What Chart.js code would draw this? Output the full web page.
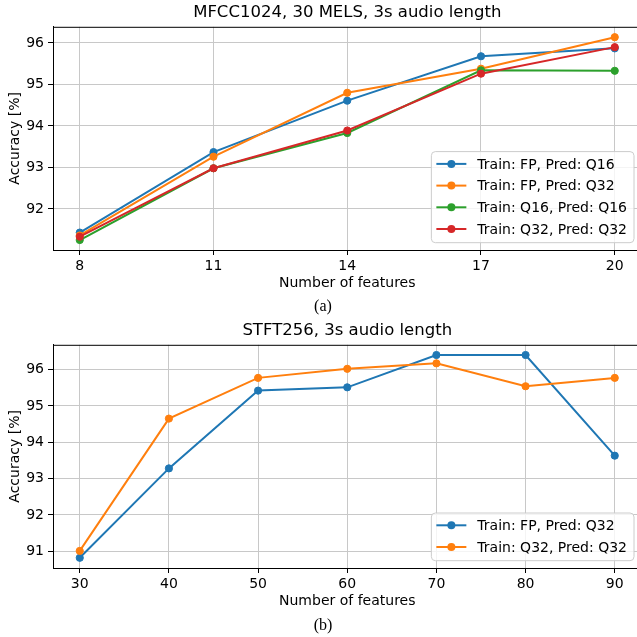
<!DOCTYPE html>
<html>
  <head>
    <title>Accuracy vs number of features</title>
    <script src="https://cdn.jsdelivr.net/npm/chart.js"></script>
    <style>
      body { margin: 0; background: #fff; }
      #page { position: relative; width: 637px; height: 637px; overflow: hidden; }
      canvas { position: absolute; left: 0; }
      .caption {
        position: absolute; width: 646px; text-align: center;
        font-family: "Liberation Serif", serif; font-size: 16px; color: #000;
      }
    </style>
  </head>
  <body>
    <div id="page">
      <canvas id="mfccChart" width="660" height="300" style="top: 0px"></canvas>
      <div class="caption" style="top: 297px">(a)</div>
      <canvas id="stftChart" width="660" height="300" style="top: 318px"></canvas>
      <div class="caption" style="top: 616px">(b)</div>
    </div>
    <script>
      // MFCC1024 results
      const mfccFeatures = [8, 11, 14, 17, 20];
      const mfccFpQ16 = [91.43, 93.37, 94.61, 95.68, 95.87];
      const mfccFpQ32 = [91.36, 93.26, 94.8, 95.38, 96.14];
      const mfccQ16Q16 = [91.25, 92.98, 93.83, 95.34, 95.33];
      const mfccQ32Q32 = [91.33, 92.98, 93.89, 95.26, 95.9];
      const mfccYTicks = [92, 93, 94, 95, 96];

      // STFT256 results
      const stftFeatures = [30, 40, 50, 60, 70, 80, 90];
      const stftFpQ32 = [90.82, 93.28, 95.42, 95.51, 96.4, 96.4, 93.63];
      const stftQ32Q32 = [91.01, 94.65, 95.77, 96.02, 96.17, 95.54, 95.77];
      const stftYTicks = [91, 92, 93, 94, 95, 96];

      const colors = ["#1f77b4", "#ff7f0e", "#2ca02c", "#d62728"];
      const FONT = "DejaVu Sans";

      const toPoints = (xs, ys) => xs.map((x, i) => ({ x: x, y: ys[i] }));

      // axes frame (top and right spines)
      const framePlugin = {
        id: "frame",
        afterDraw(chart) {
          const { ctx, chartArea: a } = chart;
          ctx.save();
          ctx.strokeStyle = "#000";
          ctx.lineWidth = 1;
          ctx.strokeRect(a.left + 0.5, a.top + 0.5, a.right - a.left, a.bottom - a.top);
          ctx.restore();
        },
      };

      // legend box in the lower right corner of the plot
      const cornerLegend = {
        id: "cornerLegend",
        afterDraw(chart) {
          const { ctx, chartArea: a } = chart;
          const sets = chart.data.datasets;
          ctx.save();
          ctx.font = "14px '" + FONT + "'";
          const maxW = Math.max(...sets.map((d) => ctx.measureText(d.label).width));
          const rowH = 21.7;
          const w = 5 + 30 + 11 + maxW + 7;
          const h = (sets.length - 1) * rowH + 26;
          const x = a.right - 7.5 - w;
          const y = a.bottom - 7.3 - h;
          ctx.beginPath();
          ctx.roundRect(x, y, w, h, 4);
          ctx.fillStyle = "rgba(255,255,255,0.8)";
          ctx.fill();
          ctx.strokeStyle = "#cccccc";
          ctx.lineWidth = 1;
          ctx.stroke();
          sets.forEach((d, i) => {
            const cy = y + 12.3 + i * rowH;
            ctx.strokeStyle = d.borderColor;
            ctx.lineWidth = 2;
            ctx.beginPath();
            ctx.moveTo(x + 5, cy);
            ctx.lineTo(x + 35, cy);
            ctx.stroke();
            ctx.fillStyle = d.borderColor;
            ctx.beginPath();
            ctx.arc(x + 20, cy, 4, 0, Math.PI * 2);
            ctx.fill();
            ctx.fillStyle = "#000";
            ctx.textBaseline = "middle";
            ctx.fillText(d.label, x + 46, cy + 1);
          });
          ctx.restore();
        },
      };

      function makeDataset(label, xs, ys, i, n) {
        return {
          label: label,
          data: toPoints(xs, ys),
          borderColor: colors[i],
          backgroundColor: colors[i],
          borderWidth: 2,
          pointRadius: 3.6,
          pointBorderWidth: 1,
          tension: 0,
          order: n - i,
        };
      }

      function makeChart(id, title, datasets, xTicks, xMin, xMax, yTicks, yMin, yMax) {
        const ctx = document.getElementById(id).getContext("2d");
        return new Chart(ctx, {
          type: "line",
          data: { datasets: datasets },
          options: {
            responsive: false,
            animation: false,
            layout: { padding: { left: 0, right: 18.5, top: 0, bottom: 0 } },
            scales: {
              x: {
                type: "linear",
                min: xMin,
                max: xMax,
                afterBuildTicks: (s) => { s.ticks = xTicks.map((v) => ({ value: v })); },
                afterFit: (s) => { s.height = 50; },
                grid: { color: "#c8c8c8", lineWidth: 1, tickLength: 5, tickColor: "#000" },
                border: { color: "#000", width: 1 },
                ticks: { color: "#000", padding: 3, font: { family: FONT, size: 14 } },
                title: {
                  display: true,
                  text: "Number of features",
                  color: "#000",
                  font: { family: FONT, size: 14 },
                  padding: { top: 0, bottom: 8.6 },
                },
              },
              y: {
                min: yMin,
                max: yMax,
                afterBuildTicks: (s) => { s.ticks = yTicks.map((v) => ({ value: v })); },
                afterFit: (s) => { s.width = 53; },
                grid: { color: "#c8c8c8", lineWidth: 1, tickLength: 5, tickColor: "#000" },
                border: { color: "#000", width: 1 },
                ticks: { color: "#000", padding: 4, font: { family: FONT, size: 14 } },
                title: {
                  display: true,
                  text: "Accuracy [%]",
                  color: "#000",
                  font: { family: FONT, size: 14 },
                  padding: { top: 6.6, bottom: 0 },
                },
              },
            },
            plugins: {
              legend: { display: false },
              tooltip: { enabled: false },
              title: {
                display: true,
                fullSize: false,
                text: title,
                color: "#000",
                font: { family: FONT, size: 16.5, weight: "normal" },
                padding: { top: 3, bottom: 4 },
              },
            },
          },
          plugins: [framePlugin, cornerLegend],
        });
      }

      makeChart(
        "mfccChart",
        "MFCC1024, 30 MELS, 3s audio length",
        [
          makeDataset("Train: FP, Pred: Q16", mfccFeatures, mfccFpQ16, 0, 4),
          makeDataset("Train: FP, Pred: Q32", mfccFeatures, mfccFpQ32, 1, 4),
          makeDataset("Train: Q16, Pred: Q16", mfccFeatures, mfccQ16Q16, 2, 4),
          makeDataset("Train: Q32, Pred: Q32", mfccFeatures, mfccQ32Q32, 3, 4),
        ],
        mfccFeatures, 7.4, 20.6, mfccYTicks, 91.01, 96.39
      );

      makeChart(
        "stftChart",
        "STFT256, 3s audio length",
        [
          makeDataset("Train: FP, Pred: Q32", stftFeatures, stftFpQ32, 0, 2),
          makeDataset("Train: Q32, Pred: Q32", stftFeatures, stftQ32Q32, 1, 2),
        ],
        stftFeatures, 27, 93, stftYTicks, 90.54, 96.68
      );
    </script>
  </body>
</html>
